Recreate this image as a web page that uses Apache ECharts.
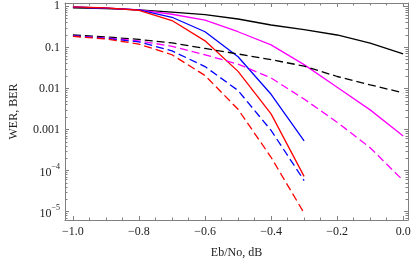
<!DOCTYPE html>
<html><head><meta charset="utf-8">
<script src="https://cdn.jsdelivr.net/npm/echarts@6/dist/echarts.min.js"></script>
<style>html,body{margin:0;padding:0;background:#fff}#c{width:417px;height:264px}</style>
</head><body><div id="c"></div>
<script>
// Eb/No (dB) sample points
const ebno = [-1.0,-0.9,-0.8,-0.7,-0.6,-0.5,-0.4,-0.3,-0.2,-0.1,0.0];
const ebnoShort = [-1.0,-0.9,-0.8,-0.7,-0.6,-0.5,-0.4,-0.3];
// WER (solid) and BER (dashed)
const blackWER   = [0.92,0.88,0.82,0.72,0.63,0.49,0.35,0.27,0.20,0.127,0.069];
const blackBER   = [0.20,0.179,0.156,0.128,0.094,0.069,0.050,0.035,0.0195,0.0122,0.0078];
const magentaWER = [0.95,0.90,0.82,0.64,0.46,0.24,0.115,0.038,0.0107,0.0030,0.00069];
const magentaBER = [0.19,0.17,0.144,0.106,0.066,0.039,0.018,0.0055,0.0015,0.00036,0.000057];
const blueWER    = [0.96,0.90,0.82,0.54,0.24,0.059,0.0072,0.00053];
const blueBER    = [0.19,0.165,0.136,0.082,0.034,0.0089,0.00095,0.000057];
const redWER     = [0.97,0.91,0.80,0.45,0.144,0.026,0.0024,0.000072];
const redBER     = [0.185,0.16,0.12,0.066,0.0206,0.0031,0.00021,0.0000092];
// tick values
const xMajorTicks = [-1.0,-0.8,-0.6,-0.4,-0.2,0.0];
const xMinorTicks = [-1.0,-0.95,-0.9,-0.85,-0.8,-0.75,-0.7,-0.65,-0.6,-0.55,-0.5,-0.45,-0.4,-0.35,-0.3,-0.25,-0.2,-0.15,-0.1,-0.05,0.0];
const yMajorTicks = [1e-5,1e-4,0.001,0.01,0.1,1];
const yMinorMantissa = [2,3,4,5,6,7,8,9];
const yDecades = [-6,-5,-4,-3,-2,-1,0];

const yMinorTicks = [];
yDecades.forEach(d => yMinorMantissa.forEach(m => yMinorTicks.push(+(m*Math.pow(10,d)).toPrecision(3))));

const FONT = 'Liberation Serif';
const FRAME = '#808080';
const XMIN = -1.024, XMAX = 0.0146;
const YMIN = Math.pow(10,-5.205), YMAX = Math.pow(10,0.08);

function pairs(xs, ys){ return xs.map((x,i)=>[x, ys[i]]); }
function fmtX(v){ return v.toFixed(1).replace('-', '\u2212'); }
function fmtY(v){
  const e = Math.round(Math.log10(v));
  if (e >= -3) return {'0':'1','-1':'0.1','-2':'0.01','-3':'0.001'}[String(e)];
  return '{b|10}{s|\u2212' + (-e) + '}';
}

function xAxis(pos, ticks, len, labels){
  return {
    type:'value', position:pos, min:XMIN, max:XMAX,
    axisLine:{show:labels!==null, onZero:false, lineStyle:{color:FRAME, width:1}},
    splitLine:{show:false},
    axisTick:{show:true, inside:true, length:len, customValues:ticks, lineStyle:{color:FRAME}},
    axisLabel: labels ? {show:true, customValues:labels, formatter:fmtX, fontFamily:FONT, fontSize:12, color:'#222', margin:6} : {show:false},
  };
}
function yAxis(pos, ticks, len, labels){
  return {
    type:'log', logBase:10, position:pos, min:YMIN, max:YMAX,
    axisLine:{show:labels!==null, onZero:false, lineStyle:{color:FRAME, width:1}},
    splitLine:{show:false},
    axisTick:{show:true, inside:true, length:len, customValues:ticks, lineStyle:{color:FRAME}},
    axisLabel: labels ? {show:true, customValues:labels, formatter:fmtY, fontFamily:FONT, fontSize:12, color:'#222', margin:5,
      rich:{b:{fontFamily:FONT, fontSize:12, color:'#222', verticalAlign:'bottom', lineHeight:16},
            s:{fontFamily:FONT, fontSize:8, color:'#222', verticalAlign:'top', lineHeight:16}}} : {show:false},
  };
}

const xa = [
  Object.assign(xAxis('bottom', xMajorTicks, 4, xMajorTicks), {name:'Eb/No, dB', nameLocation:'middle', nameGap:27, nameTextStyle:{fontFamily:FONT, fontSize:12, color:'#222'}}),
  Object.assign(xAxis('top', xMajorTicks, 4, []), {axisLabel:{show:false}}),
  xAxis('bottom', xMinorTicks, 2.5, null),
  xAxis('top', xMinorTicks, 2.5, null),
];
const ya = [
  Object.assign(yAxis('left', yMajorTicks, 4, yMajorTicks), {name:'WER, BER', nameLocation:'middle', nameGap:45, nameRotate:90, nameTextStyle:{fontFamily:FONT, fontSize:12, color:'#222'}}),
  Object.assign(yAxis('right', yMajorTicks, 4, []), {axisLabel:{show:false}}),
  yAxis('left', yMinorTicks, 2.5, null),
  yAxis('right', yMinorTicks, 2.5, null),
];

function line(xs, ys, color, dashed){
  return {type:'line', xAxisIndex:0, yAxisIndex:0, data:pairs(xs, ys), symbol:'none', silent:true,
    lineStyle:{color:color, width:1.3, type: dashed ? [8,4] : 'solid'}};
}

const chart = echarts.init(document.getElementById('c'), null, {renderer:'canvas'});
chart.setOption({
  animation:false,
  grid:{left:53, right:9, top:3, bottom:42, containLabel:false},
  xAxis: xa, yAxis: ya,
  series:[
    line(ebno, blackWER, '#000000', false),
    line(ebno, magentaWER, '#ff00ff', false),
    line(ebnoShort, blueWER, '#0000ff', false),
    line(ebnoShort, redWER, '#ff0000', false),
    line(ebno, blackBER, '#000000', true),
    line(ebno, magentaBER, '#ff00ff', true),
    line(ebnoShort, blueBER, '#0000ff', true),
    line(ebnoShort, redBER, '#ff0000', true),
  ]
});
</script></body></html>
